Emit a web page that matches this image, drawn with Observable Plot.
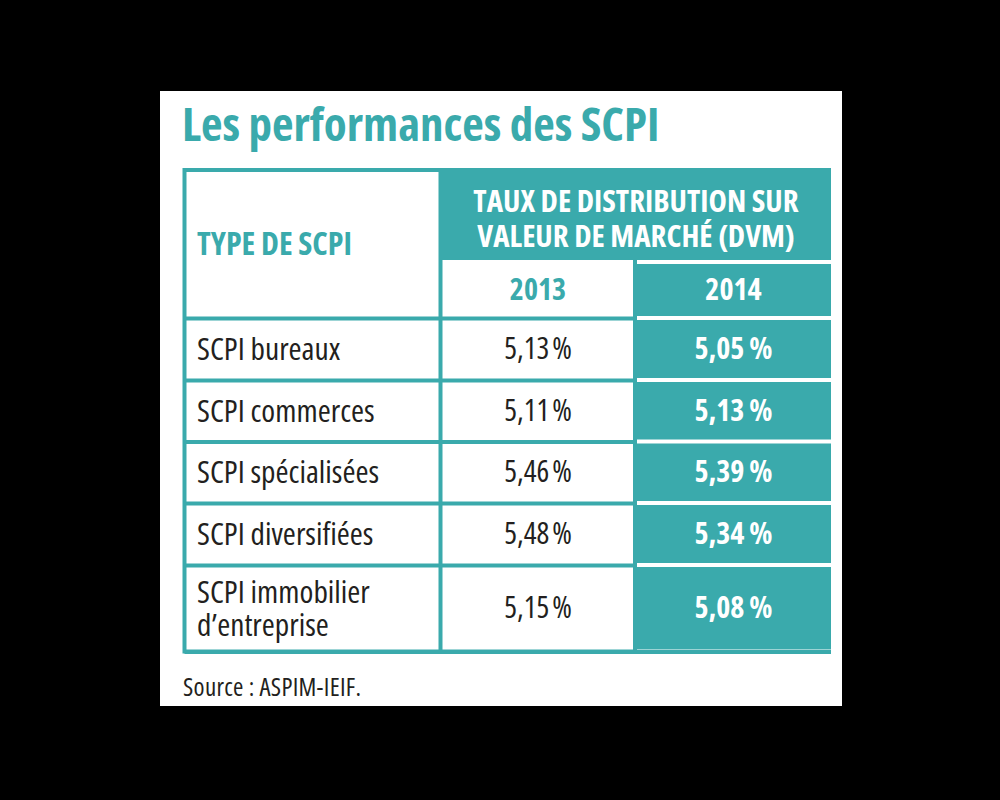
<!DOCTYPE html>
<html>
<head>
<meta charset="utf-8">
<script src="https://cdn.jsdelivr.net/npm/d3@7"></script>
<script src="https://cdn.jsdelivr.net/npm/@observablehq/plot@0.6"></script>
<style>
  html, body { margin: 0; padding: 0; }
  body { background: #000; width: 1000px; height: 800px; overflow: hidden; position: relative;
         font-family: "Open Sans", sans-serif; font-stretch: 75%; }
  #panel { position: absolute; left: 160px; top: 91px; width: 682px; height: 615px; background: #fff; }
  #title { position: absolute; left: 22px; top: 9px; font-weight: bold; font-size: 47px; line-height: 46px;
           color: #3aaaac; white-space: nowrap; }
  #chart { position: absolute; left: 0; top: 69px; }
  #source { position: absolute; left: 23px; top: 583px; font-size: 25px; line-height: 25px; letter-spacing: 0.3px;
            color: #231f20; white-space: nowrap; }
  g[aria-label="type header"] { letter-spacing: 1px; }
  g[aria-label="group header"] { letter-spacing: 0.9px; }
</style>
</head>
<body>
<div id="panel">
  <div id="title"></div>
  <div id="chart"></div>
  <div id="source"></div>
</div>
<script>
// ---- data ----
const title = "Les performances des SCPI";
const source = "Source : ASPIM-IEIF.";
const headerType = "TYPE DE SCPI";
const headerGroup = "TAUX DE DISTRIBUTION SUR\nVALEUR DE MARCHÉ (DVM)";
const years = ["2013", "2014"];
const categories = ["SCPI bureaux", "SCPI commerces", "SCPI spécialisées", "SCPI diversifiées", "SCPI immobilier\nd’entreprise"];
const values2013 = [5.13, 5.11, 5.46, 5.48, 5.15];
const values2014 = [5.05, 5.13, 5.39, 5.34, 5.08];

// ---- layout (table grid) ----
const colWidths = [255.5, 195, 196];
const rowHeights = [92, 56, 62, 61.5, 61.5, 62, 86.5];
const teal = "#3aaaac";
const ink = "#231f20";
const font = '"Open Sans", sans-serif';

const xe = [0]; colWidths.forEach(w => xe.push(xe[xe.length - 1] + w));
const ye = [0]; rowHeights.forEach(h => ye.push(ye[ye.length - 1] + h));
const W = 682, H = 500, mL = 24.5, mT = 10;

const fmt = (v, sp) => v.toFixed(2).replace(".", ",") + sp + "%";
const rows = categories.map((c, i) => ({cat: c, v13: values2013[i], v14: values2014[i], r: i + 2}));
const mid = (a, b) => (a + b) / 2;
const rowMid = d => mid(ye[d.r], ye[d.r + 1]);

document.getElementById("title").textContent = title;
document.getElementById("source").textContent = source;

const chart = Plot.plot({
  width: W,
  height: H,
  margin: 0,
  x: {type: "linear", domain: [0, xe[3]], range: [mL, mL + xe[3]], axis: null},
  y: {type: "linear", domain: [0, ye[7]], range: [mT, mT + ye[7]], axis: null},
  style: {fontFamily: font, fontStretch: "75%", background: "none", overflow: "visible"},
  marks: [
    // outer frame of first two columns
    Plot.rect([0], {x1: 0, x2: xe[2], y1: 0, y2: ye[7], fill: "none", stroke: teal, strokeWidth: 4}),
    // header group fill
    Plot.rect([0], {x1: xe[1], x2: xe[3], y1: ye[0], y2: ye[1], fill: teal, insetTop: -2, insetBottom: 2}),
    // 2014 column fills
    Plot.rect(d3.range(1, 7), {x1: xe[2], x2: xe[3], y1: i => ye[i], y2: i => ye[i + 1], fill: teal, insetTop: 2, insetBottom: 2}),
    // grid lines
    Plot.ruleX([xe[1]], {y1: 0, y2: ye[7], stroke: teal, strokeWidth: 4}),
    Plot.ruleY(ye.slice(2, 7), {x1: 0, x2: xe[2], stroke: teal, strokeWidth: 4}),
    Plot.ruleY([ye[7]], {x1: 0, x2: xe[3], stroke: teal, strokeWidth: 4}),
    // header texts
    Plot.text([headerType], {x: 0, dx: 12, y: mid(ye[0], ye[2]), text: d => d, textAnchor: "start",
      fill: teal, fontWeight: "bold", fontSize: 32, ariaLabel: "type header"}),
    Plot.text([headerGroup], {x: mid(xe[1], xe[3]), y: mid(ye[0], ye[1]), dy: 2, text: d => d,
      fill: "white", fontWeight: "bold", fontSize: 31, lineHeight: 1.12, ariaLabel: "group header"}),
    Plot.text([years[0]], {x: mid(xe[1], xe[2]), y: mid(ye[1], ye[2]), text: d => d,
      fill: teal, fontWeight: "bold", fontSize: 30}),
    Plot.text([years[1]], {x: mid(xe[2], xe[3]), y: mid(ye[1], ye[2]), text: d => d,
      fill: "white", fontWeight: "bold", fontSize: 30}),
    // body
    Plot.text(rows, {x: 0, dx: 12, y: rowMid, text: "cat", textAnchor: "start", fill: ink, fontSize: 31.5,
      lineHeight: 1.05, ariaLabel: "category labels"}),
    Plot.text(rows, {x: mid(xe[1], xe[2]), y: rowMid, text: d => fmt(d.v13, "\u200A"), fill: ink, fontSize: 30}),
    Plot.text(rows, {x: mid(xe[2], xe[3]), y: rowMid, text: d => fmt(d.v14, "\u2009"), fill: "white", fontWeight: "bold", fontSize: 30})
  ]
});
document.getElementById("chart").appendChild(chart);
</script>
</body>
</html>
